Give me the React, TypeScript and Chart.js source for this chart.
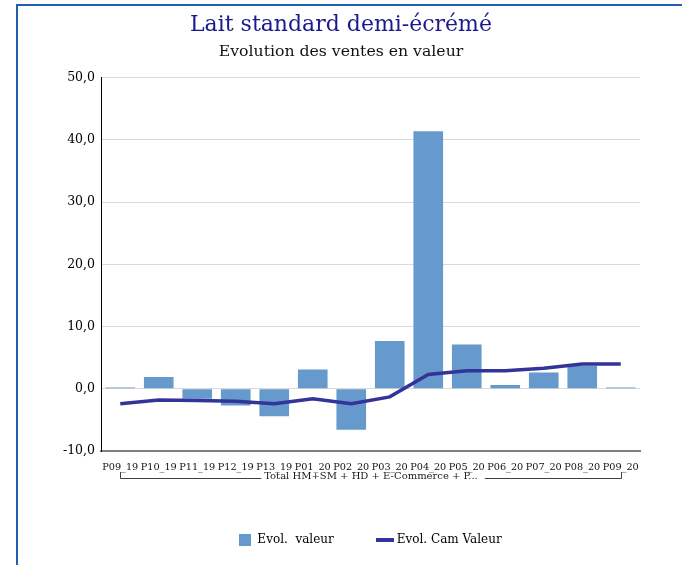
import React, { useEffect, useRef } from "react";
import { Chart, registerables } from "chart.js";

Chart.register(...registerables);

const categories = ["P09_19", "P10_19", "P11_19", "P12_19", "P13_19", "P01_20", "P02_20", "P03_20", "P04_20", "P05_20", "P06_20", "P07_20", "P08_20", "P09_20"];
const evolValeur = [0.2, 1.9, -1.6, -2.7, -4.4, 3.1, -6.6, 7.7, 41.4, 7.1, 0.6, 2.6, 3.7, 0.2];
const evolCamValeur = [-2.4, -1.8, -1.9, -2.0, -2.4, -1.6, -2.4, -1.3, 2.3, 2.9, 2.9, 3.3, 4.0, 4.0];
const yTicks = [-10, 0, 10, 20, 30, 40, 50];
const groupLabel = "Total HM+SM + HD + E-Commerce + P...";
const titleText = "Lait standard demi-écrémé";
const subtitleText = "Evolution des ventes en valeur";
const seriesNames = ["Evol.  valeur", "Evol. Cam Valeur"];

const BAR_COLOR = "#6699cc";
const LINE_COLOR = "#333399";
const FONT = "DejaVu Serif";

function makeSwatch(w: number, h: number, color: string) {
  const c = document.createElement("canvas");
  c.width = w;
  c.height = h;
  const g = c.getContext("2d")!;
  g.fillStyle = color;
  g.fillRect(0, 0, w, h);
  return c;
}

const groupPlugin = {
  id: "groupBracket",
  afterDraw(chart: any) {
    const xs = chart.scales.x;
    const ctx = chart.ctx;
    const bottom = chart.chartArea.bottom;
    const x0 = Math.round(xs.getPixelForValue(0)) + 0.5;
    const x1 = Math.round(xs.getPixelForValue(categories.length - 1)) + 0.5;
    const yTop = bottom + 21;
    const yLine = bottom + 27.5;
    ctx.save();
    ctx.font = `10px "${FONT}"`;
    const tw = ctx.measureText(groupLabel).width;
    const cx = (x0 + x1) / 2;
    ctx.strokeStyle = "#404040";
    ctx.lineWidth = 1;
    ctx.beginPath();
    ctx.moveTo(x0, yTop);
    ctx.lineTo(x0, yLine);
    ctx.lineTo(cx - tw / 2 - 3, yLine);
    ctx.moveTo(cx + tw / 2 + 7, yLine);
    ctx.lineTo(x1, yLine);
    ctx.lineTo(x1, yTop);
    ctx.stroke();
    ctx.fillStyle = "#1a1a1a";
    ctx.textAlign = "center";
    ctx.textBaseline = "alphabetic";
    ctx.fillText(groupLabel, cx, yLine + 0.5);
    ctx.restore();
  },
};

export default function App() {
  const ref = useRef<HTMLCanvasElement>(null);

  useEffect(() => {
    const square = makeSwatch(12, 12, BAR_COLOR);
    const line = makeSwatch(18, 4, LINE_COLOR);
    const chart = new Chart(ref.current!, {
      type: "bar",
      data: {
        labels: categories,
        datasets: [
          {
            type: "line",
            label: seriesNames[1],
            data: evolCamValeur,
            borderColor: LINE_COLOR,
            borderWidth: 3.5,
            pointRadius: 0,
            tension: 0,
            order: 0,
          } as any,
          {
            type: "bar",
            label: seriesNames[0],
            data: evolValeur,
            backgroundColor: BAR_COLOR,
            categoryPercentage: 1,
            barPercentage: 0.77,
            order: 1,
          },
        ],
      },
      options: {
        animation: false,
        responsive: false,
        maintainAspectRatio: false,
        layout: { padding: { left: 42, right: 42, top: 0, bottom: 9 } },
        plugins: {
          title: {
            display: true,
            text: titleText,
            color: "#1a1a8c",
            font: { family: FONT, size: 22, weight: "normal" },
            padding: { top: 12, bottom: 3 },
          },
          subtitle: {
            display: true,
            text: subtitleText,
            color: "#111111",
            font: { family: FONT, size: 15.7, weight: "normal" },
            padding: { top: 1, bottom: 16.5 },
          },
          legend: {
            display: true,
            position: "bottom",
            fullSize: false,
            labels: {
              usePointStyle: true,
              padding: 45,
              color: "#1a1a1a",
              font: { family: FONT, size: 12 },
              generateLabels: () => [
                { text: seriesNames[0], pointStyle: square, fillStyle: BAR_COLOR, strokeStyle: BAR_COLOR, lineWidth: 0, hidden: false, datasetIndex: 1 } as any,
                { text: seriesNames[1], pointStyle: line, fillStyle: LINE_COLOR, strokeStyle: LINE_COLOR, lineWidth: 0, hidden: false, datasetIndex: 0 } as any,
              ],
            },
          },
          tooltip: { enabled: false },
        },
        scales: {
          x: {
            afterFit: (s: any) => {
              s.height = 38;
            },
            grid: { display: false },
            border: { display: true, color: "#808080", width: 2 },
            ticks: {
              autoSkip: false,
              maxRotation: 0,
              minRotation: 0,
              padding: 3,
              color: "#111111",
              font: { family: FONT, size: 9.7 },
            },
          },
          y: {
            min: -10,
            max: 50,
            afterFit: (s: any) => {
              s.width = 59;
            },
            afterBuildTicks: (s: any) => {
              s.ticks = yTicks.map((v) => ({ value: v }));
            },
            grid: { color: "#d9d9d9", lineWidth: 1, drawTicks: false },
            border: { display: true, color: "#000000", width: 1 },
            ticks: {
              padding: 6,
              color: "#000000",
              font: { family: FONT, size: 12.5 },
              callback: (v: any) => Number(v).toFixed(1).replace(".", ","),
            },
          },
        },
      },
      plugins: [groupPlugin],
    });
    return () => chart.destroy();
  }, []);

  return (
    <div style={{ position: "fixed", left: 0, top: 0, width: 682, height: 565, background: "#ffffff", overflow: "hidden" }}>
      <div
        style={{
          position: "absolute",
          left: 16,
          top: 4,
          width: 720,
          height: 620,
          borderLeft: "2px solid #2060ae",
          borderTop: "2px solid #2060ae",
          boxSizing: "border-box",
        }}
      />
      <canvas ref={ref} width={682} height={565} style={{ position: "absolute", left: 0, top: 0, width: 682, height: 565 }} />
    </div>
  );
}
